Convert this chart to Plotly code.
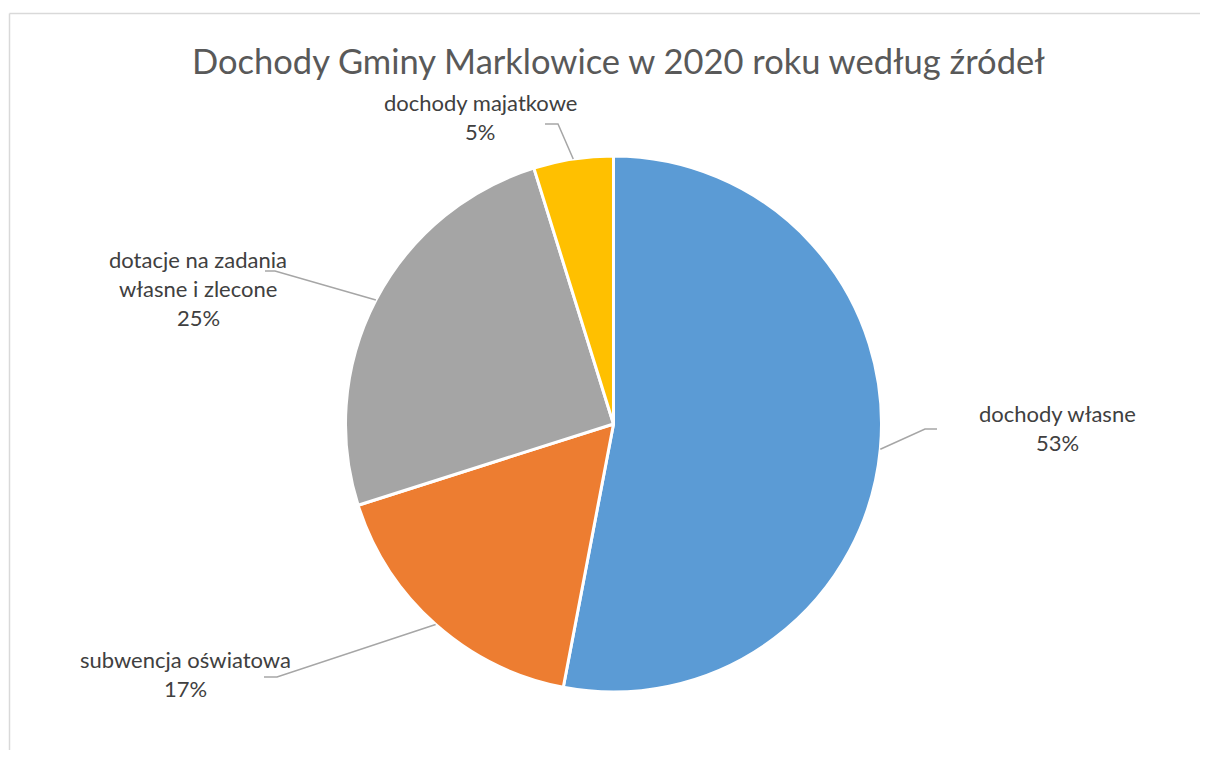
import math
import plotly.graph_objects as go

# ---- data ----
categories = ["dochody własne", "subwencja oświatowa", "dotacje na zadania własne i zlecone", "dochody majatkowe"]
label_lines = [["dochody własne"], ["subwencja oświatowa"], ["dotacje na zadania", "własne i zlecone"], ["dochody majatkowe"]]
values = [53.0, 17.1, 25.1, 4.8]
colors = ["#5B9BD5", "#ED7D31", "#A5A5A5", "#FFC000"]
title = "Dochody Gminy Marklowice w 2020 roku według źródeł"

# ---- layout (screen pixels; page body has an 8px margin) ----
OFF = 8
W, H = 1208 - 2 * OFF, 758 - 2 * OFF
cx, cy, R = 613.5, 424.0, 268.0
# label block centres and leader elbow points (layout choices)
label_pos = [(1057, 428), (185, 674), (198, 288), (480, 117)]
elbows = [((925, 429), (937, 429)), ((277, 677), (264, 677)), ((275, 271), (265, 271)), ((558, 124), (545, 124))]
line_gap = 29

def px(x):
    return (x - OFF) / W

def py(y):
    return 1 - (y - OFF) / H

fig = go.Figure(go.Pie(
    labels=categories, values=values, sort=False, direction="clockwise", rotation=0,
    marker=dict(colors=colors, line=dict(color="white", width=3)),
    textinfo="none", hoverinfo="label+percent", showlegend=False,
    domain=dict(x=[px(cx - R), px(cx + R)], y=[py(cy + R), py(cy - R)]),
))

total = sum(values)
annotations = []
shapes = []
cum = 0.0
for i, v in enumerate(values):
    mid = (cum + v / 2) / total * 2 * math.pi
    cum += v
    sx, sy = cx + R * math.sin(mid), cy - R * math.cos(mid)
    (ex, ey), (tx, ty) = elbows[i]
    shapes.append(dict(type="path", xref="paper", yref="paper",
                       path=f"M {px(sx)},{py(sy)} L {px(ex)},{py(ey)} L {px(tx)},{py(ty)}",
                       line=dict(color="#A6A6A6", width=1.5)))
    lines = label_lines[i] + [f"{round(v / total * 100):d}%"]
    lx, ly = label_pos[i]
    n = len(lines)
    for k, t in enumerate(lines):
        yy = ly + (k - (n - 1) / 2) * line_gap
        annotations.append(dict(x=px(lx), y=py(yy), xref="paper", yref="paper", text=t,
                                showarrow=False, xanchor="center", yanchor="middle",
                                font=dict(family="Lato", size=22, color="#404040")))

# chart border (only top and left edges are visible in the reference)
border = dict(color="#D9D9D9", width=1.5)
shapes.append(dict(type="line", xref="paper", yref="paper", x0=px(9.5), y0=py(13.5), x1=1.0, y1=py(13.5),
                   line=border, layer="below"))
shapes.append(dict(type="line", xref="paper", yref="paper", x0=px(9.5), y0=0.0, x1=px(9.5), y1=py(13.5),
                   line=border, layer="below"))

annotations.append(dict(x=px(618), y=py(60), xref="paper", yref="paper", text=title, showarrow=False,
                        xanchor="center", yanchor="middle",
                        font=dict(family="Lato", size=34.5, color="#595959")))

fig.update_layout(width=W, height=H, margin=dict(l=0, r=0, t=0, b=0),
                  paper_bgcolor="white", plot_bgcolor="white",
                  annotations=annotations, shapes=shapes)
fig.write_html("out.html")
